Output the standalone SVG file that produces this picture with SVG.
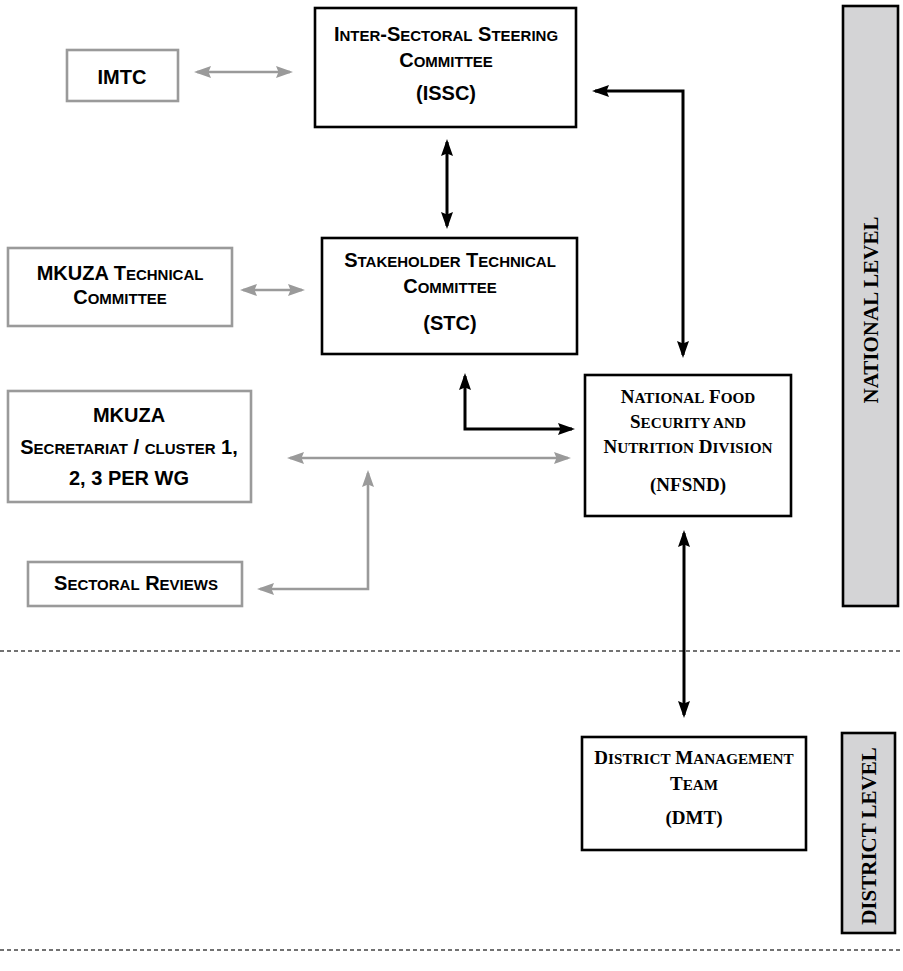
<svg xmlns="http://www.w3.org/2000/svg" width="903" height="971" viewBox="0 0 903 971">
<style>
.bk{fill:#fff;stroke:#000;stroke-width:2.6}
.gr{fill:#fff;stroke:#9a9a9a;stroke-width:2.6}
.bar{fill:#d4d4d6;stroke:#000;stroke-width:2.6}
.sans{font-family:"Liberation Sans",Arial,sans-serif;font-weight:bold;font-size:20px;text-anchor:middle;fill:#000}
.serif{font-family:"Liberation Serif","Times New Roman",serif;font-weight:bold;font-size:19px;text-anchor:middle;fill:#000}
.s{font-size:15px}
.t{font-size:15.2px}
.lvl{font-family:"Liberation Serif","Times New Roman",serif;font-weight:bold;font-size:21px;text-anchor:middle;fill:#000}
.cb{fill:none;stroke:#000;stroke-width:3}
.cg{fill:none;stroke:#9a9a9a;stroke-width:2.6}
.dash{stroke:#444;stroke-width:1.3;stroke-dasharray:4 3;fill:none}
</style>
<defs>
<marker id="ab" viewBox="0 0 17 12" refX="14" refY="6" markerWidth="17" markerHeight="12" markerUnits="userSpaceOnUse" orient="auto-start-reverse"><path d="M0,0 L17,6 L0,12 L2.5,6 z" fill="#000"/></marker>
<marker id="ag" viewBox="0 0 17 12" refX="14" refY="6" markerWidth="17" markerHeight="12" markerUnits="userSpaceOnUse" orient="auto-start-reverse"><path d="M0,0 L17,6 L0,12 L2.5,6 z" fill="#9a9a9a"/></marker>
</defs>

<g id="levels">
<line class="dash" x1="0" y1="651" x2="903" y2="651"/>
<line class="dash" x1="0" y1="950" x2="903" y2="950"/>
<g id="national-level">
<rect class="bar" x="843" y="6" width="55" height="600"/>
<text class="lvl" transform="translate(878,310) rotate(-90)">NATIONAL LEVEL</text>
</g>
<g id="district-level">
<rect class="bar" x="842" y="733" width="53" height="200"/>
<text class="lvl" transform="translate(876,836) rotate(-90)">DISTRICT LEVEL</text>
</g>
</g>

<g id="connectors">
<path class="cg" d="M197,72 H290" marker-start="url(#ag)" marker-end="url(#ag)"/>
<path class="cb" d="M595,91 H683 V355" marker-start="url(#ab)" marker-end="url(#ab)"/>
<path class="cb" d="M447,142 V226" marker-start="url(#ab)" marker-end="url(#ab)"/>
<path class="cg" d="M243,290 H302" marker-start="url(#ag)" marker-end="url(#ag)"/>
<path class="cb" d="M465,376 V429 H572" marker-start="url(#ab)" marker-end="url(#ab)"/>
<path class="cg" d="M290,458 H568" marker-start="url(#ag)" marker-end="url(#ag)"/>
<path class="cg" d="M368,473 V589 H260" marker-start="url(#ag)" marker-end="url(#ag)"/>
<path class="cb" d="M684,533 V715" marker-start="url(#ab)" marker-end="url(#ab)"/>
</g>

<g id="imtc">
<rect class="gr" x="67" y="50" width="111" height="51"/>
<text class="sans" x="122" y="84">IMTC</text>
</g>

<g id="issc">
<rect class="bk" x="315" y="8" width="261" height="119"/>
<text class="sans" x="446" y="41">I<tspan class="s">NTER</tspan>-S<tspan class="s">ECTORAL</tspan> S<tspan class="s">TEERING</tspan></text>
<text class="sans" x="446" y="67">C<tspan class="s">OMMITTEE</tspan></text>
<text class="sans" x="446" y="100">(ISSC)</text>
</g>

<g id="stc">
<rect class="bk" x="322" y="238" width="255" height="116"/>
<text class="sans" x="450" y="267">S<tspan class="s">TAKEHOLDER</tspan> T<tspan class="s">ECHNICAL</tspan></text>
<text class="sans" x="450" y="293">C<tspan class="s">OMMITTEE</tspan></text>
<text class="sans" x="450" y="330">(STC)</text>
</g>

<g id="mkuza-tc">
<rect class="gr" x="8" y="248" width="224" height="78"/>
<text class="sans" x="120" y="280">MKUZA T<tspan class="s">ECHNICAL</tspan></text>
<text class="sans" x="120" y="304">C<tspan class="s">OMMITTEE</tspan></text>
</g>

<g id="mkuza-secretariat">
<rect class="gr" x="8" y="391" width="243" height="111"/>
<text class="sans" x="129" y="422">MKUZA</text>
<text class="sans" x="129" y="454">S<tspan class="s">ECRETARIAT</tspan> / <tspan class="s">CLUSTER</tspan> 1,</text>
<text class="sans" x="129" y="485">2, 3 PER WG</text>
</g>

<g id="sectoral-reviews">
<rect class="gr" x="28" y="562" width="214" height="44"/>
<text class="sans" x="136" y="590">S<tspan class="s">ECTORAL</tspan> R<tspan class="s">EVIEWS</tspan></text>
</g>

<g id="nfsnd">
<rect class="bk" x="585" y="375" width="206" height="141"/>
<text class="serif" x="688" y="403">N<tspan class="t">ATIONAL</tspan> F<tspan class="t">OOD</tspan></text>
<text class="serif" x="688" y="428">S<tspan class="t">ECURITY AND</tspan></text>
<text class="serif" x="688" y="453">N<tspan class="t">UTRITION</tspan> D<tspan class="t">IVISION</tspan></text>
<text class="serif" x="688" y="491">(NFSND)</text>
</g>

<g id="dmt">
<rect class="bk" x="582" y="737" width="224" height="113"/>
<text class="serif" x="694" y="764">D<tspan class="t">ISTRICT</tspan> M<tspan class="t">ANAGEMENT</tspan></text>
<text class="serif" x="694" y="790">T<tspan class="t">EAM</tspan></text>
<text class="serif" x="694" y="824">(DMT)</text>
</g>
</svg>
